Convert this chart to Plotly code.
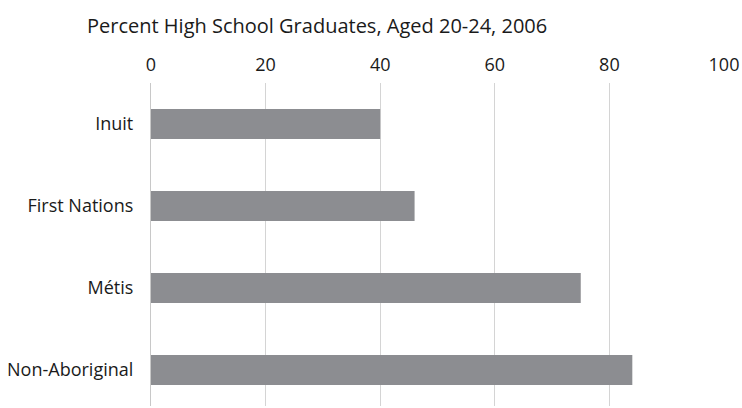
import plotly.graph_objects as go

categories = ["Inuit", "First Nations", "Métis", "Non-Aboriginal"]
values = [40, 46, 75, 84]
x_ticks = [0, 20, 40, 60, 80, 100]

FONT = "Open Sans, sans-serif"
TEXT = "#1a1a1a"

fig = go.Figure()
fig.add_trace(go.Bar(
    x=values, y=categories, orientation="h",
    marker=dict(color="#8c8d91", line=dict(width=0)),
    width=0.366, showlegend=False))

fig.update_layout(
    width=742, height=408,
    margin=dict(l=151, r=18, t=83, b=2),
    plot_bgcolor="white", paper_bgcolor="white",
    title=dict(text="Percent High School Graduates, Aged 20-24, 2006",
               x=87 / 742, xref="container", xanchor="left",
               y=1 - 26 / 408, yref="container", yanchor="middle",
               font=dict(family=FONT, size=20, color=TEXT)),
    xaxis=dict(side="top", range=[0, 100], tickvals=x_ticks,
               showgrid=True, gridcolor="#d4d4d4", gridwidth=1.2,
               zeroline=False, showline=False, ticks="",
               ticklabelstandoff=7, automargin=False,
               tickfont=dict(family=FONT, size=18, color=TEXT)),
    yaxis=dict(categoryorder="array", categoryarray=categories,
               range=[3.44, -0.5], showgrid=False, zeroline=False,
               showline=True, linecolor="#c8c8c8", linewidth=1.2,
               ticks="outside", ticklen=13, tickcolor="rgba(0,0,0,0)",
               automargin=False,
               tickfont=dict(family=FONT, size=18, color=TEXT)),
)

# la page ajoute 8 px de marge au body : on la retire pour caler le graphique
fig.write_html("out.html", config={"displayModeBar": False},
               post_script="document.body.style.margin='0';")
